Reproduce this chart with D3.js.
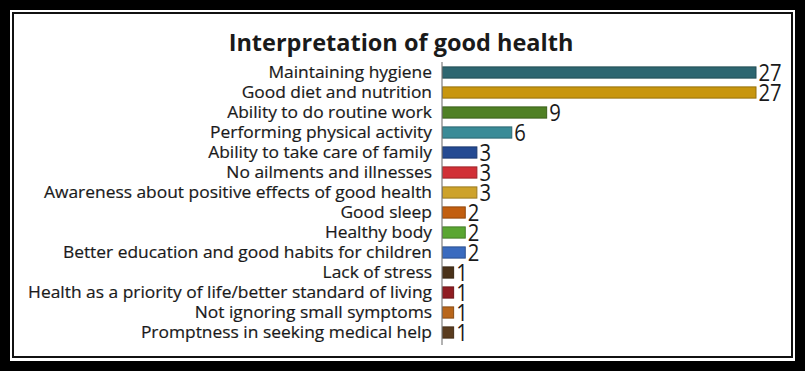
<!DOCTYPE html>
<html>
<head>
<meta charset="utf-8">
<script src="https://cdn.jsdelivr.net/npm/d3@7"></script>
<style>
  body { margin: 0; background: #fff; }
  svg { display: block; }
</style>
</head>
<body>
<div id="chart"></div>
<script>
// data
const categories = [
    'Maintaining hygiene',
    'Good diet and nutrition',
    'Ability to do routine work',
    'Performing physical activity',
    'Ability to take care of family',
    'No ailments and illnesses',
    'Awareness about positive effects of good health',
    'Good sleep',
    'Healthy body',
    'Better education and good habits for children',
    'Lack of stress',
    'Health as a priority of life/better standard of living',
    'Not ignoring small symptoms',
    'Promptness in seeking medical help'
];
const counts = [27, 27, 9, 6, 3, 3, 3, 2, 2, 2, 1, 1, 1, 1];
const barColors = [
    '#2d6670', '#c8960e', '#4f8024', '#3a8b97', '#244a92', '#d13036', '#cda22a',
    '#c25f10', '#5aa632', '#3a6bbf', '#4a3219', '#8f1d22', '#b8661b', '#5a3c1f'
];
const title = 'Interpretation of good health';

const width = 805;
const height = 371;

const svg = d3.select('#chart')
    .append('svg')
    .attr('width', width)
    .attr('height', height);

// cadre noir double
svg.append('rect')
    .attr('width', width).attr('height', height)
    .attr('fill', '#000');
svg.append('rect')
    .attr('x', 10).attr('y', 10)
    .attr('width', width - 20).attr('height', height - 20)
    .attr('fill', '#fff');
svg.append('rect')
    .attr('x', 13).attr('y', 13)
    .attr('width', width - 26).attr('height', height - 27)
    .attr('fill', 'none')
    .attr('stroke', '#111')
    .attr('stroke-width', 2);

const font = "'Open Sans', 'Noto Sans', sans-serif";

// titre
const titleText = svg.append('text')
    .attr('x', 401)
    .attr('y', 51)
    .attr('text-anchor', 'middle')
    .attr('font-family', font)
    .attr('font-weight', 'bold')
    .attr('font-size', 22)
    .attr('fill', '#1a1a1a')
    .text(title);
let tw = titleText.node().getComputedTextLength();
titleText.attr('font-size', 22 * 345 / tw);

// échelles
const axisX = 442;
const x = d3.scaleLinear()
    .domain([0, 27])
    .range([axisX, 756]);

const y = d3.scaleBand()
    .domain(categories)
    .range([62.5, 342.5])
    .paddingInner(0.44)
    .paddingOuter(0.22);

// barres
svg.selectAll('rect.bar')
    .data(categories)
    .enter()
    .append('rect')
    .attr('class', 'bar')
    .attr('x', axisX + 0.5)
    .attr('y', d => y(d))
    .attr('width', (d, i) => x(counts[i]) - axisX - 0.5)
    .attr('height', y.bandwidth())
    .attr('fill', (d, i) => barColors[i])
    .attr('stroke', (d, i) => d3.color(barColors[i]).darker(0.8))
    .attr('stroke-width', 1);

// étiquettes des catégories (police plus haute, resserrée horizontalement)
const labelSize = 17;
const labels = svg.selectAll('text.cat')
    .data(categories)
    .enter()
    .append('text')
    .attr('class', 'cat')
    .attr('x', 0)
    .attr('y', 0)
    .attr('dy', '0.35em')
    .attr('text-anchor', 'end')
    .attr('font-family', font)
    .attr('font-size', labelSize)
    .attr('fill', '#1a1a1a')
    .attr('stroke', '#1a1a1a')
    .attr('stroke-width', 0.2)
    .text(d => d);

let maxW = d3.max(labels.nodes(), n => n.getComputedTextLength());
let sx = 404 / maxW;
labels.attr('transform', d => `translate(432,${y(d) + y.bandwidth() / 2}) scale(${sx},1)`);

// valeurs
const vals = svg.selectAll('text.val')
    .data(categories)
    .enter()
    .append('text')
    .attr('class', 'val')
    .attr('x', 0)
    .attr('y', 0)
    .attr('dy', '0.36em')
    .attr('font-family', font)
    .attr('font-size', 23)
    .attr('fill', '#1a1a1a')
    .attr('transform', (d, i) => `translate(${x(counts[i]) + 2.5},${y(d) + y.bandwidth() / 2 + 0.5}) scale(0.88,1)`)
    .text((d, i) => counts[i]);

// axe vertical
svg.append('line')
    .attr('x1', axisX).attr('x2', axisX)
    .attr('y1', 62).attr('y2', 345)
    .attr('stroke', '#7f7f7f')
    .attr('stroke-width', 1.2);
</script>
</body>
</html>
